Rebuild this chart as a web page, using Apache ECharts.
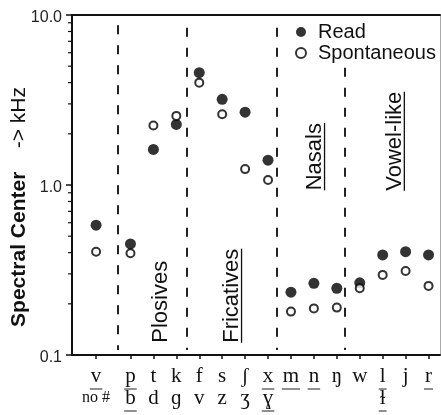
<!DOCTYPE html>
<html><head><meta charset="utf-8">
<script src="https://cdn.jsdelivr.net/npm/echarts@6/dist/echarts.min.js"></script>
<style>html,body{margin:0;padding:0;background:#fff}#c{width:441px;height:415px}</style>
</head><body><div id="c"></div>
<script>
// ---- data ----
const topLabels = ['v','p','t','k','f','s','ʃ','x','m','n','ŋ','w','l','j','r'];
const bottomLabels = ['no #','b','d','ɡ','v','z','ʒ','ɣ','','','','','ɫ','',''];
const topUnderlined = [1,1,0,0,0,0,0,1,1,1,0,0,1,0,1];
const bottomUnderlined = [0,1,0,0,0,0,0,1,0,0,0,0,1,0,0];
const xPos = [0.5,2,3,4,5,6,7,8,9,10,11,12,13,14,15];
const readValues  = [0.58,0.45,1.62,2.27,4.58,3.19,2.68,1.40,0.234,0.264,0.247,0.266,0.388,0.405,0.388];
const spontValues = [0.405,0.397,2.24,2.55,4.00,2.61,1.24,1.07,0.180,0.188,0.190,0.247,0.296,0.312,0.255];
const yTickLabels = [0.1, 1, 10];
const yMinorTicks = [0.2,0.3,0.4,0.5,0.6,0.7,0.8,0.9,2,3,4,5,6,7,8,9];
const dividerX = [1.45, 4.45, 8.4, 11.35];
const dividerTop = [8.7, 8.4, 8.4, 4.9];
const groupNames = ['Plosives','Fricatives','Nasals','Vowel-like'];
const groupX = [3.32, 6.43, 10.05, 13.53];
const groupBase = [0.118, 0.118, 0.93, 0.925];
const groupUnderlined = [0,1,1,1];

const chart = echarts.init(document.getElementById('c'), null, {renderer:'canvas'});
const SANS = '"Liberation Sans", Arial, sans-serif';
const SERIF = '"Liberation Serif", "Times New Roman", serif';
const X_MIN = -0.55, X_MAX = 15.5;

function idxOf(v){ let b=0; for(let i=0;i<xPos.length;i++){ if(Math.abs(xPos[i]-v)<Math.abs(xPos[b]-v)) b=i; } return b; }

const option = {
  animation:false,
  backgroundColor:'#fff',
  grid:{left:72, right:1, top:15, bottom:60},
  legend:{
    data:['Read','Spontaneous'], orient:'vertical', left:295, top:22,
    itemWidth:24, itemHeight:10, itemGap:1, padding:0, selectedMode:false,
    textStyle:{fontFamily:SANS, fontSize:20, color:'#111'}
  },
  xAxis:[{
    type:'value', min:X_MIN, max:X_MAX, position:'bottom',
    axisLine:{show:true, onZero:false, lineStyle:{color:'#111', width:2}},
    axisTick:{show:true, inside:false, length:4, customValues:xPos, lineStyle:{color:'#111', width:1.5}},
    splitLine:{show:false},
    axisLabel:{
      customValues:xPos, margin:10,
      formatter:function(v){
        const i = idxOf(v);
        let s = '{a|'+topLabels[i]+'}';
        if(bottomLabels[i]) s += '\n{'+(i===0?'c':'a')+'|'+bottomLabels[i]+'}';
        return s;
      },
      rich:{
        a:{fontFamily:SERIF, fontSize:21, lineHeight:22, color:'#111'},
        c:{fontFamily:SERIF, fontSize:16, lineHeight:22, color:'#111'}
      }
    }
  },{
    type:'value', min:X_MIN, max:X_MAX, position:'top',
    axisLine:{show:true, onZero:false, lineStyle:{color:'#111', width:2}},
    axisTick:{show:false}, axisLabel:{show:false}, splitLine:{show:false}
  }],
  yAxis:[{
    type:'log', logBase:10, min:0.1, max:10, interval:1, position:'left',
    axisLine:{show:true, onZero:false, lineStyle:{color:'#111', width:2}},
    axisTick:{show:true, length:6, lineStyle:{color:'#111', width:1.5}},
    splitLine:{show:false},
    axisLabel:{margin:10, fontFamily:SANS, fontSize:16, color:'#222', verticalAlign:'top', lineHeight:5,
      formatter:function(v){ return Number(v).toFixed(1); }}
  },{
    type:'log', logBase:10, min:0.1, max:10, position:'right',
    axisLine:{show:true, onZero:false, lineStyle:{color:'#aaa', width:1}},
    axisTick:{show:false}, axisLabel:{show:false}, splitLine:{show:false}
  }],
  series:[{
    name:'Read', type:'scatter', symbol:'circle', symbolSize:11,
    itemStyle:{color:'#000'},
    data: xPos.map((x,i)=>[x, readValues[i]]),
    markLine:{
      silent:true, symbol:['none','none'], label:{show:false}, emphasis:{disabled:true},
      lineStyle:{color:'#222', width:2, type:[9,11]},
      data: dividerX.map((x,i)=>[{coord:[x, dividerTop[i]]},{coord:[x, 0.107]}])
    }
  },{
    name:'Spontaneous', type:'scatter', symbol:'circle', symbolSize:8,
    itemStyle:{color:'#fff', borderColor:'#000', borderWidth:2},
    data: xPos.map((x,i)=>[x, spontValues[i]])
  },{
    name:'minorTicks', type:'custom', clip:false, silent:true,
    data: yMinorTicks.map(v=>[X_MIN, v]),
    renderItem:function(params, api){
      const p = api.coord([api.value(0), api.value(1)]);
      return {type:'line', shape:{x1:p[0]-4, y1:p[1], x2:p[0], y2:p[1]}, style:{stroke:'#111', lineWidth:1.2}};
    }
  }]
};
chart.setOption(option);

// ---- annotations ----
const ctx = document.createElement('canvas').getContext('2d');
function tw(text, font){ ctx.font = font; return ctx.measureText(text).width; }
const graphics = [];
graphics.push({
  type:'text', x:19, y:207, rotation:Math.PI/2, silent:true,
  style:{
    text:'{b|Spectral Center}{n|    -> kHz}', align:'center', verticalAlign:'middle',
    rich:{ b:{fontFamily:SANS, fontSize:21, fontWeight:'bold', fill:'#111'},
           n:{fontFamily:SANS, fontSize:21, fill:'#111'} }
  }
});
groupNames.forEach((name,i)=>{
  const p = chart.convertToPixel({seriesIndex:0}, [groupX[i], groupBase[i]]);
  const font = '22px ' + SANS;
  const w = tw(name, font);
  const children = [{type:'text', x:0, y:0, style:{text:name, font:font, fill:'#111', align:'left', verticalAlign:'middle'}}];
  if(groupUnderlined[i]) children.push({type:'line', shape:{x1:0,y1:9.5,x2:w,y2:9.5}, style:{stroke:'#111', lineWidth:1.3}});
  graphics.push({type:'group', x:p[0], y:p[1], rotation:Math.PI/2, silent:true, children:children});
});
const axisY = chart.convertToPixel({seriesIndex:0}, [0, 0.1])[1];
xPos.forEach((x,i)=>{
  const px = chart.convertToPixel({seriesIndex:0}, [x, 1])[0];
  if(topUnderlined[i]){
    const w = tw(topLabels[i], '21px '+SERIF) + 2;
    graphics.push({type:'line', silent:true, shape:{x1:px-w/2, y1:axisY+34, x2:px+w/2, y2:axisY+34}, style:{stroke:'#222', lineWidth:1}});
  }
  if(bottomUnderlined[i]){
    const w = tw(bottomLabels[i], '21px '+SERIF) + 2;
    graphics.push({type:'line', silent:true, shape:{x1:px-w/2, y1:axisY+56, x2:px+w/2, y2:axisY+56}, style:{stroke:'#222', lineWidth:1}});
  }
});
chart.setOption({graphic:graphics});
</script></body></html>
